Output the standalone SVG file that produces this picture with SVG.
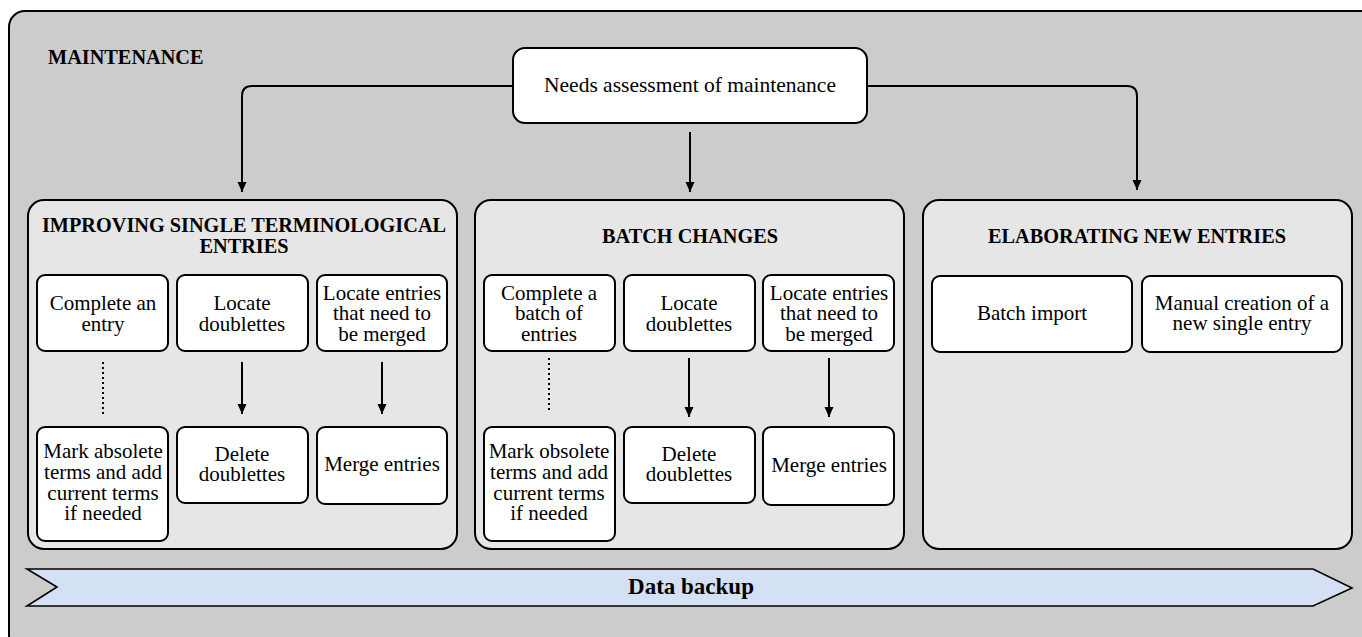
<svg xmlns="http://www.w3.org/2000/svg" width="1362" height="637" viewBox="0 0 1362 637">
<style>
.panel{fill:#e6e6e6;stroke:#000;stroke-width:2}
.box{fill:#fff;stroke:#000;stroke-width:2}
.t{font-family:"Liberation Serif",serif;font-size:21px;fill:#000;text-anchor:middle}
.b{font-family:"Liberation Serif",serif;font-size:20.3px;font-weight:bold;fill:#000;text-anchor:middle}
.ln{fill:none;stroke:#000;stroke-width:2}
.dot{fill:none;stroke:#000;stroke-width:2;stroke-dasharray:2 3}
</style>
<defs>
<marker id="ah" viewBox="0 0 10 10" refX="10" refY="5" markerWidth="10" markerHeight="10" markerUnits="userSpaceOnUse" orient="auto">
<path d="M0,0.5 L10,5 L0,9.5 Z" fill="#000"/>
</marker>
</defs>
<g id="maintenance">
<rect x="9" y="11" width="1370" height="640" rx="16" fill="#cccccc" stroke="#000" stroke-width="2"/>
<text x="48" y="64" class="b" style="text-anchor:start">MAINTENANCE</text>
</g>
<g id="needs">
<rect x="513" y="48" width="354" height="75" rx="12" class="box"/>
<text x="690" y="92" class="t" style="font-size:21.5px">Needs assessment of maintenance</text>
</g>
<g id="panel-improving">
<rect x="28" y="200" width="429" height="349" rx="16" class="panel"/>
<text x="244" y="232" class="b">IMPROVING SINGLE TERMINOLOGICAL</text>
<text x="244" y="253" class="b">ENTRIES</text>
</g>
<g id="panel-batch">
<rect x="475" y="200" width="429" height="349" rx="16" class="panel"/>
<text x="690" y="243" class="b">BATCH CHANGES</text>
</g>
<g id="panel-new">
<rect x="923" y="200" width="429" height="349" rx="16" class="panel"/>
<text x="1137" y="243" class="b">ELABORATING NEW ENTRIES</text>
</g>
<g id="p1-complete">
<rect x="37" y="275" width="131" height="76" rx="8" class="box"/>
<text x="103" y="310" class="t">Complete an</text>
<text x="103" y="331" class="t">entry</text>
</g>
<g id="p1-locate">
<rect x="177" y="275" width="131" height="76" rx="8" class="box"/>
<text x="242" y="310" class="t">Locate</text>
<text x="242" y="331" class="t">doublettes</text>
</g>
<g id="p1-locate-merge">
<rect x="317" y="275" width="130" height="76" rx="8" class="box"/>
<text x="382" y="300" class="t">Locate entries</text>
<text x="382" y="320" class="t">that need to</text>
<text x="382" y="341" class="t">be merged</text>
</g>
<g id="p1-mark">
<rect x="37" y="427" width="131" height="114" rx="8" class="box"/>
<text x="103" y="458" class="t">Mark absolete</text>
<text x="103" y="479" class="t">terms and add</text>
<text x="103" y="500" class="t">current terms</text>
<text x="103" y="520" class="t">if needed</text>
</g>
<g id="p1-delete">
<rect x="177" y="427" width="131" height="76" rx="8" class="box"/>
<text x="242" y="461" class="t">Delete</text>
<text x="242" y="481" class="t">doublettes</text>
</g>
<g id="p1-merge">
<rect x="317" y="427" width="130" height="77" rx="8" class="box"/>
<text x="382" y="471" class="t">Merge entries</text>
</g>
<g id="p2-complete">
<rect x="484" y="275" width="131" height="76" rx="8" class="box"/>
<text x="549" y="300" class="t">Complete a</text>
<text x="549" y="320" class="t">batch of</text>
<text x="549" y="341" class="t">entries</text>
</g>
<g id="p2-locate">
<rect x="624" y="275" width="131" height="76" rx="8" class="box"/>
<text x="689" y="310" class="t">Locate</text>
<text x="689" y="331" class="t">doublettes</text>
</g>
<g id="p2-locate-merge">
<rect x="763" y="275" width="131" height="76" rx="8" class="box"/>
<text x="829" y="300" class="t">Locate entries</text>
<text x="829" y="320" class="t">that need to</text>
<text x="829" y="341" class="t">be merged</text>
</g>
<g id="p2-mark">
<rect x="484" y="427" width="131" height="114" rx="8" class="box"/>
<text x="549" y="458" class="t">Mark obsolete</text>
<text x="549" y="479" class="t">terms and add</text>
<text x="549" y="500" class="t">current terms</text>
<text x="549" y="520" class="t">if needed</text>
</g>
<g id="p2-delete">
<rect x="624" y="427" width="131" height="76" rx="8" class="box"/>
<text x="689" y="461" class="t">Delete</text>
<text x="689" y="481" class="t">doublettes</text>
</g>
<g id="p2-merge">
<rect x="763" y="427" width="131" height="78" rx="8" class="box"/>
<text x="829" y="472" class="t">Merge entries</text>
</g>
<g id="p3-batch-import">
<rect x="932" y="276" width="200" height="76" rx="8" class="box"/>
<text x="1032" y="320" class="t">Batch import</text>
</g>
<g id="p3-manual">
<rect x="1142" y="276" width="200" height="76" rx="8" class="box"/>
<text x="1242" y="310" class="t">Manual creation of a</text>
<text x="1242" y="330" class="t">new single entry</text>
</g>
<g id="data-backup">
<path d="M27,569 L1313,569 L1352,588 L1313,606 L27,606 L57,587 Z" fill="#d4e1f4" stroke="#000" stroke-width="1.6"/>
<text x="691" y="594" class="b" style="font-size:23px">Data backup</text>
</g>
<g id="connectors">
<path d="M513,86 L252,86 Q242,86 242,96 L242,192" class="ln" marker-end="url(#ah)"/>
<path d="M867,86 L1127,86 Q1137,86 1137,96 L1137,190" class="ln" marker-end="url(#ah)"/>
<path d="M690,132 L690,192" class="ln" marker-end="url(#ah)"/>
<path d="M103,362 L103,417" class="dot"/>
<path d="M242,362 L242,414" class="ln" marker-end="url(#ah)"/>
<path d="M382,362 L382,414" class="ln" marker-end="url(#ah)"/>
<path d="M549,358 L549,413" class="dot"/>
<path d="M689,358 L689,417" class="ln" marker-end="url(#ah)"/>
<path d="M829,358 L829,417" class="ln" marker-end="url(#ah)"/>
</g>
</svg>
